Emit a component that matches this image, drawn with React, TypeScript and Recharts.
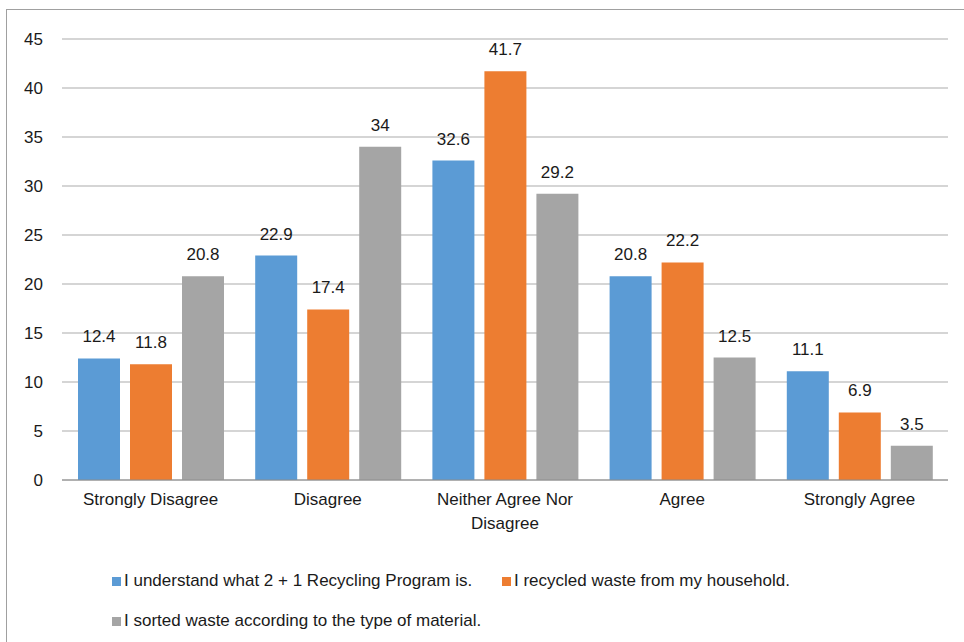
import React from 'react';
import { BarChart, Bar, XAxis, YAxis, CartesianGrid, Legend, LabelList } from 'recharts';

const categories = ['Strongly Disagree', 'Disagree', 'Neither Agree Nor Disagree', 'Agree', 'Strongly Agree'];
const understand = [12.4, 22.9, 32.6, 20.8, 11.1];
const recycled = [11.8, 17.4, 41.7, 22.2, 6.9];
const sorted = [20.8, 34, 29.2, 12.5, 3.5];
const yTicks = [0, 5, 10, 15, 20, 25, 30, 35, 40, 45];

const seriesNames = {
  understand: 'I understand what 2 + 1 Recycling Program is.',
  recycled: 'I recycled waste from my household.',
  sorted: 'I sorted waste according to the type of material.',
};
const colors = { understand: '#5b9bd5', recycled: '#ed7d31', sorted: '#a5a5a5' };

const data = categories.map((name, i) => ({
  name,
  understand: understand[i],
  recycled: recycled[i],
  sorted: sorted[i],
}));

const FONT = "'Liberation Sans', Arial, sans-serif";

// split long category names into two lines like the original
function wrap(text: string, max = 20): string[] {
  if (text.length <= max) return [text];
  const words = text.split(' ');
  const lines: string[] = [];
  let cur = '';
  words.forEach((w) => {
    if ((cur + ' ' + w).trim().length > max) {
      lines.push(cur);
      cur = w;
    } else {
      cur = (cur + ' ' + w).trim();
    }
  });
  if (cur) lines.push(cur);
  return lines;
}

const CategoryTick = (props: any) => {
  const { x, y, payload } = props;
  const lines = wrap(payload.value);
  return (
    <text x={x} y={y} textAnchor="middle" fontFamily={FONT} fontSize={17} fill="#1a1a1a">
      {lines.map((l, i) => (
        <tspan key={i} x={x} dy={i === 0 ? 17 : 24}>{l}</tspan>
      ))}
    </text>
  );
};

const LegendBox = () => {
  const item = (key: 'understand' | 'recycled' | 'sorted', left: number, top: number) => (
    <div style={{ position: 'absolute', left, top, display: 'flex', alignItems: 'center', whiteSpace: 'nowrap' }}>
      <span style={{ width: 9, height: 9, background: colors[key], marginRight: 3, display: 'inline-block' }} />
      <span>{seriesNames[key]}</span>
    </div>
  );
  return (
    <div style={{ position: 'relative', width: 957, height: 90, fontFamily: FONT, fontSize: 17, color: '#1a1a1a', lineHeight: '20px' }}>
      {item('understand', 105, 31)}
      {item('recycled', 495, 31)}
      {item('sorted', 105, 71)}
    </div>
  );
};

export default function App() {
  return (
    <div style={{ position: 'fixed', left: 6, top: 9, width: 958, height: 633, borderLeft: '1px solid #a0a0a0', borderTop: '1px solid #a0a0a0', background: '#fff' }}>
      <BarChart width={957} height={630} data={data} barSize={42} barGap={10}
        margin={{ top: 29, right: 16, left: 0, bottom: 10 }}>
        <CartesianGrid vertical={false} stroke="#ababab" />
        <XAxis dataKey="name" tick={<CategoryTick />} tickLine={false}
          axisLine={{ stroke: '#8c8c8c' }} height={60} interval={0} />
        <YAxis domain={[0, 45]} ticks={yTicks} width={55} axisLine={false} tickLine={false}
          tickMargin={13} tick={{ fontFamily: FONT, fontSize: 17, fill: '#1a1a1a' }} />
        <Legend verticalAlign="bottom" height={90} content={<LegendBox />} />
        <Bar dataKey="understand" name={seriesNames.understand} fill={colors.understand} isAnimationActive={false}>
          <LabelList dataKey="understand" position="top" offset={16} fontFamily={FONT} fontSize={17} fill="#1a1a1a" />
        </Bar>
        <Bar dataKey="recycled" name={seriesNames.recycled} fill={colors.recycled} isAnimationActive={false}>
          <LabelList dataKey="recycled" position="top" offset={16} fontFamily={FONT} fontSize={17} fill="#1a1a1a" />
        </Bar>
        <Bar dataKey="sorted" name={seriesNames.sorted} fill={colors.sorted} isAnimationActive={false}>
          <LabelList dataKey="sorted" position="top" offset={16} fontFamily={FONT} fontSize={17} fill="#1a1a1a" />
        </Bar>
      </BarChart>
    </div>
  );
}
